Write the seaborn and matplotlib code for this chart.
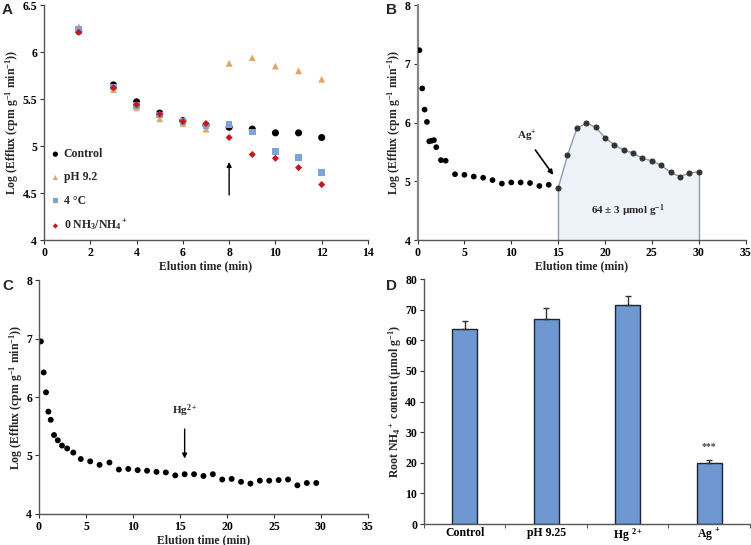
import numpy as np
import matplotlib
matplotlib.use('Agg')
import matplotlib.pyplot as plt
from matplotlib.ticker import FuncFormatter
import seaborn as sns

# ---- panel A data ----
a_time = [1.5, 3, 4, 5, 6, 7, 8, 9, 10, 11, 12]
a_control = [6.22, 5.65, 5.47, 5.35, 5.27, 5.22, 5.20, 5.18, 5.14, 5.14, 5.09]
a_ph92 = [6.27, 5.60, 5.41, 5.29, 5.24, 5.18, 5.88, 5.94, 5.85, 5.80, 5.71]
a_4c = [6.24, 5.63, 5.43, 5.33, 5.26, 5.22, 5.23, 5.15, 4.94, 4.88, 4.72]
a_0nh = [6.21, 5.62, 5.44, 5.34, 5.26, 5.24, 5.09, 4.91, 4.87, 4.77, 4.59]

# ---- panel B data ----
b_time1 = [0.2, 0.5, 0.75, 1.0, 1.25, 1.5, 1.75, 2.0, 2.5, 3, 4, 5, 6, 7, 8, 9,
           10, 11, 12, 13, 14]
b_val1 = [7.23, 6.58, 6.22, 6.01, 5.68, 5.69, 5.70, 5.58, 5.36, 5.35, 5.12, 5.11,
          5.08, 5.06, 5.02, 4.96, 4.98, 4.98, 4.97, 4.92, 4.94]
b_time2 = [15, 16, 17, 18, 19, 20, 21, 22, 23, 24, 25, 26, 27, 28, 29, 30]
b_val2 = [4.88, 5.44, 5.90, 5.99, 5.92, 5.74, 5.62, 5.53, 5.48, 5.39, 5.35, 5.27,
          5.15, 5.08, 5.14, 5.16]

# ---- panel C data ----
c_time = [0.2, 0.5, 0.75, 1.0, 1.25, 1.6, 2.0, 2.45, 3.0, 3.65, 4.45, 5.45, 6.45,
          7.5, 8.5, 9.5, 10.5, 11.5, 12.5, 13.5, 14.5, 15.5, 16.5, 17.5, 18.5,
          19.5, 20.5, 21.5, 22.5, 23.5, 24.5, 25.5, 26.5, 27.5, 28.5, 29.5]
c_val = [6.95, 6.42, 6.08, 5.75, 5.61, 5.35, 5.26, 5.17, 5.12, 5.05, 4.94, 4.90,
         4.84, 4.88, 4.76, 4.77, 4.75, 4.74, 4.72, 4.71, 4.66, 4.68, 4.68, 4.65,
         4.68, 4.59, 4.60, 4.55, 4.52, 4.57, 4.57, 4.58, 4.59, 4.49, 4.53, 4.53]

# ---- panel D data ----
d_labels = ['Control', 'pH 9.25', 'Hg $^{2+}$', 'Ag $^{+}$']
d_means = [63.8, 66.9, 71.5, 19.9]
d_err = [2.4, 3.5, 2.9, 1.0]

sns.set_style('white')
plt.rcParams['font.family'] = ['Liberation Serif', 'DejaVu Serif']
plt.rcParams['font.weight'] = 'bold'
plt.rcParams['mathtext.fontset'] = 'custom'
plt.rcParams['mathtext.rm'] = 'Liberation Serif:bold'
plt.rcParams['mathtext.it'] = 'Liberation Serif:bold:italic'
plt.rcParams['mathtext.bf'] = 'Liberation Serif:bold'
plt.rcParams['mathtext.default'] = 'rm'

FS = 8.5
ylab = r'Log (Efflux (cpm g$^{-1}$ min$^{-1}$))'
fmt = FuncFormatter(lambda v, p: f'{v:g}')


def style_ax(ax):
    sns.despine(ax=ax)
    for s in ['left', 'bottom']:
        ax.spines[s].set_color('#555555')
        ax.spines[s].set_linewidth(1.0)
    ax.tick_params(axis='both', direction='out', length=3, width=0.8,
                   colors='#333333', labelsize=FS, labelcolor='black',
                   bottom=True, left=True, pad=2)
    for lab in ax.get_xticklabels() + ax.get_yticklabels():
        lab.set_fontweight('bold')


fig = plt.figure(figsize=(7.51, 5.45), dpi=100)

# ================= A =================
axA = fig.add_axes([0.0586, 0.5596, 0.4314, 0.4312])
sns.scatterplot(x=a_time, y=a_control, ax=axA, color='black', marker='o', s=26,
                edgecolor='none', label='Control')
sns.scatterplot(x=a_time, y=a_ph92, ax=axA, color='#e3a468', marker='^', s=24,
                edgecolor='none', label='pH 9.2')
sns.scatterplot(x=a_time, y=a_4c, ax=axA, color='#7ea4d4', marker='s', s=22,
                edgecolor='none', label='4 °C')
sns.scatterplot(x=a_time, y=a_0nh, ax=axA, color='#c8161e', marker='D', s=13,
                edgecolor='none', label=r'0 NH$_3$/NH$_4$$^+$')
axA.annotate('', xy=(8, 4.86), xytext=(8, 4.45),
             arrowprops=dict(arrowstyle='-|>', color='black', lw=1.0,
                             mutation_scale=7))
axA.set_xlim(0, 14)
axA.set_ylim(4, 6.5)
axA.set_xticks(np.arange(0, 15, 2))
axA.set_yticks(np.arange(4, 6.6, 0.5))
axA.yaxis.set_major_formatter(fmt)
axA.set_xlabel('Elution time (min)', fontsize=FS, fontweight='bold', labelpad=1)
axA.set_ylabel(ylab, fontsize=FS, fontweight='bold', labelpad=1)
leg = axA.legend(loc='lower left', bbox_to_anchor=(-0.005, 0.0), frameon=False,
                 handlelength=1.0, handletextpad=0.2, labelspacing=0.95,
                 markerscale=0.75, borderaxespad=0.2,
                 prop={'family': 'Liberation Serif', 'weight': 'bold', 'size': 8.5})
style_ax(axA)

# ================= B =================
axB = fig.add_axes([0.556, 0.5596, 0.4367, 0.4312])
axB.fill_between(b_time2, 4, b_val2, color='#eef2f9', zorder=1)
axB.vlines([b_time2[0], b_time2[-1]], 4, [b_val2[0], b_val2[-1]],
           color='#8a9bb4', lw=1.0, zorder=2)
sns.lineplot(x=b_time2, y=b_val2, ax=axB, color='#8a9bb4', lw=1.0, zorder=3,
             marker='o', markersize=3.6, markerfacecolor='#333333',
             markeredgecolor='#333333')
sns.scatterplot(x=b_time1, y=b_val1, ax=axB, color='black', s=17,
                edgecolor='none', zorder=4)
axB.annotate('', xy=(14.65, 5.07), xytext=(12.4, 5.57),
             arrowprops=dict(arrowstyle='-|>', color='black', lw=1.2,
                             mutation_scale=7))
axB.text(11.7, 5.77, r'Ag$^{+}$', fontsize=8, fontweight='bold',
         ha='center', va='center')
axB.text(22.4, 4.50, r'64 ± 3 µmol g$^{-1}$', fontsize=8, fontweight='bold',
         ha='center', va='center')
axB.set_xlim(0, 35)
axB.set_ylim(4, 8)
axB.set_xticks(np.arange(0, 36, 5))
axB.set_yticks(np.arange(4, 9, 1))
axB.set_xlabel('Elution time (min)', fontsize=FS, fontweight='bold', labelpad=1)
axB.set_ylabel(ylab, fontsize=FS, fontweight='bold', labelpad=1)
style_ax(axB)
axB.spines['left'].set_color('#888888')
axB.spines['left'].set_linewidth(1.6)

# ================= C =================
axC = fig.add_axes([0.0519, 0.0569, 0.438, 0.4293])
sns.scatterplot(x=c_time, y=c_val, ax=axC, color='black', s=18, edgecolor='none')
axC.annotate('', xy=(15.5, 4.9), xytext=(15.5, 5.5),
             arrowprops=dict(arrowstyle='-|>', color='black', lw=1.0,
                             mutation_scale=7))
axC.text(15.45, 5.76, r'Hg$^{2+}$', fontsize=8, fontweight='bold',
         ha='center', va='center')
axC.set_xlim(0, 35)
axC.set_ylim(4, 8)
axC.set_xticks(np.arange(0, 36, 5))
axC.set_yticks(np.arange(4, 9, 1))
axC.set_xlabel('Elution time (min)', fontsize=FS, fontweight='bold', labelpad=1)
axC.set_ylabel(ylab, fontsize=FS, fontweight='bold', labelpad=1)
style_ax(axC)

# ================= D =================
axD = fig.add_axes([0.5646, 0.0385, 0.434, 0.4495])
sns.barplot(x=d_labels, y=d_means, ax=axD, color='#6f98d2', width=0.31,
            edgecolor='#1c2637', linewidth=1.0, saturation=1)
axD.errorbar(range(len(d_labels)), d_means, yerr=[np.zeros(len(d_err)), d_err],
             fmt='none', ecolor='#333333', elinewidth=1.0, capsize=2.5,
             capthick=1.0)
axD.text(3, d_means[3] + 5.3, '***', fontsize=7, fontweight='bold',
         ha='center', va='center', color='#444444')
axD.set_xlim(-0.5, 3.5)
axD.set_ylim(0, 80)
axD.set_yticks(np.arange(0, 81, 10))
axD.set_xticks(np.arange(-0.5, 3.6, 1), minor=True)
axD.set_xlabel('')
axD.set_ylabel(r'Root NH$_4$$^+$ content (µmol g$^{-1}$)', fontsize=FS,
               fontweight='bold', labelpad=1)
style_ax(axD)
axD.tick_params(axis='x', which='major', length=0)
axD.tick_params(axis='x', which='minor', length=3, direction='out',
                color='#333333', bottom=True)

# panel letters
for lbl, (px, py) in zip('ABCD', [(2, 3), (386, 3), (2, 279), (386, 279)]):
    fig.text(px / 751, 1 - py / 545, lbl, fontsize=11, fontweight='bold',
             family='Liberation Sans', ha='left', va='top')

fig.savefig('out.png', dpi=100)
